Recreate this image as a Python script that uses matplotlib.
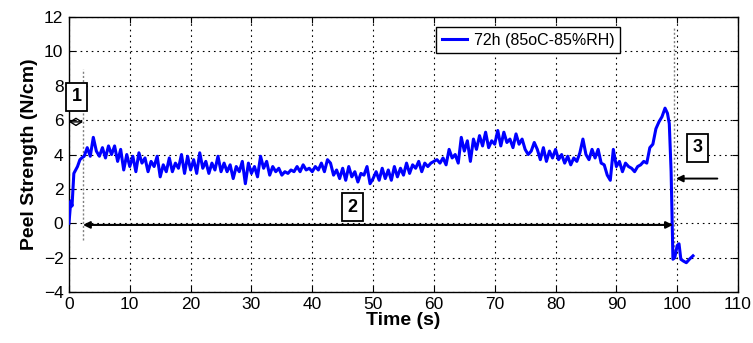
import numpy as np
import matplotlib
matplotlib.use("Agg")
import matplotlib.pyplot as plt

plt.rcParams['font.family'] = ['Liberation Sans', 'DejaVu Sans']

# start-up segment
t_start = [0.0, 0.3, 0.5, 0.8, 1.1, 1.4, 1.8, 2.1]
y_start = [0.0, 1.3, 1.0, 2.9, 3.1, 3.3, 3.7, 3.8]

# steady peel segment, sampled every 0.5 s from 2.5 s to 94.5 s
t_mid = np.arange(2.5, 94.75, 0.5)
y_mid = [
    3.9, 4.4, 3.9, 5.0, 4.2, 3.9, 4.4, 3.8, 4.5, 4.0,
    4.5, 3.6, 4.3, 3.1, 4.0, 3.3, 3.9, 3.0, 4.1, 3.5,
    3.8, 3.0, 3.6, 3.3, 3.9, 2.7, 3.4, 3.0, 3.8, 3.0,
    3.5, 3.2, 4.0, 2.9, 3.9, 3.1, 3.7, 2.9, 4.1, 3.2,
    3.6, 2.9, 3.5, 3.1, 3.9, 3.0, 3.5, 3.0, 3.4, 2.6,
    3.3, 3.0, 3.6, 2.3, 3.5, 2.9, 3.3, 2.7, 3.9, 3.2,
    3.6, 2.8, 3.3, 3.0, 3.2, 2.8, 3.0, 2.9, 3.1, 3.0,
    3.3, 3.0, 3.4, 3.1, 3.2, 3.0, 3.3, 3.1, 3.5, 3.0,
    3.7, 3.5, 2.8, 3.1, 2.6, 3.2, 2.5, 3.3, 2.7, 3.0,
    2.4, 2.9, 2.8, 3.3, 2.3, 2.6, 3.0, 2.5, 3.2, 2.6,
    3.1, 2.5, 3.3, 2.7, 3.2, 2.8, 3.5, 2.9, 3.4, 3.2,
    3.6, 3.0, 3.5, 3.3, 3.5, 3.6, 3.7, 3.5, 3.8, 3.4,
    4.3, 3.8, 4.0, 3.5, 5.0, 4.2, 4.8, 3.6, 4.9, 4.3,
    5.1, 4.5, 5.3, 4.4, 4.8, 4.6, 5.4, 4.5, 5.3, 4.7,
    4.9, 4.4, 5.2, 4.6, 4.9, 4.3, 4.0, 4.2, 4.7, 4.3,
    3.7, 4.4, 3.6, 4.2, 3.8, 4.3, 3.7, 4.0, 3.5, 3.9,
    3.4, 3.8, 3.6, 4.1, 4.9, 4.0, 3.7, 4.3, 3.8, 4.3,
    3.5, 3.4, 2.8, 2.5, 4.3, 3.3, 3.6, 3.0, 3.5, 3.3,
    3.2, 3.0, 3.3, 3.4, 3.6,
]

# final peak, failure drop and tail
t_end = [95.0, 95.5, 96.0, 96.5, 97.0, 97.5, 98.0, 98.4, 98.7, 99.0, 99.3,
         99.6, 100.0, 100.3, 100.6, 101.0, 101.5, 102.0, 102.6]
y_end = [3.5, 4.4, 4.6, 5.5, 5.9, 6.2, 6.7, 6.4, 5.8, 3.0, -2.1,
         -2.0, -1.3, -1.2, -2.1, -2.2, -2.3, -2.1, -1.9]

t = np.concatenate([t_start, t_mid, t_end])
y = np.concatenate([y_start, y_mid, y_end])

xticks = list(range(0, 111, 10))
yticks = list(range(-4, 13, 2))

fig = plt.figure(figsize=(7.53, 3.43), dpi=100)
ax = fig.add_axes([0.0916, 0.149, 0.8885, 0.801])

ax.plot(t, y, color='#0000ff', lw=2.2, label='72h (85oC-85%RH)', zorder=3)

ax.set_xlim(0, 110)
ax.set_ylim(-4, 12)
ax.set_xticks(xticks)
ax.set_yticks(yticks)
ax.tick_params(direction='in', labelsize=12.5, top=True, right=True, length=4, pad=4)
ax.grid(True, color='black', linestyle=(0, (1.5, 3.5)), lw=0.8)
for s in ax.spines.values():
    s.set_linewidth(1.0)

ax.set_xlabel('Time (s)', fontsize=14, fontweight='bold', labelpad=0)
ax.set_ylabel('Peel Strength (N/cm)', fontsize=14, fontweight='bold', labelpad=4)

leg = ax.legend(loc='upper left', bbox_to_anchor=(0.549, 0.964), fancybox=False,
                edgecolor='black', fontsize=11.5, borderaxespad=0, handlelength=1.6,
                handletextpad=0.4, borderpad=0.35, framealpha=1)
leg.get_frame().set_linewidth(1.0)

# vertical guide lines
ax.plot([2.3, 2.3], [-1, 9], color='gray', lw=1.0, linestyle=(0, (1.5, 1.5)), zorder=2)
ax.plot([99.5, 99.5], [-1.6, 11.4], color='gray', lw=1.0, linestyle=(0, (1.5, 1.5)), zorder=2)

# arrows
ax.annotate('', xy=(0, 5.9), xytext=(2.3, 5.9),
            arrowprops=dict(arrowstyle='<->,head_length=0.4,head_width=0.25', color='black', lw=1.0,
                            shrinkA=0, shrinkB=0, mutation_scale=10))
ax.annotate('', xy=(2.3, -0.1), xytext=(99.3, -0.1),
            arrowprops=dict(arrowstyle='<|-|>', color='black', lw=1.5,
                            shrinkA=0, shrinkB=0, mutation_scale=10))
ax.annotate('', xy=(99.8, 2.6), xytext=(106.6, 2.6),
            arrowprops=dict(arrowstyle='-|>', color='black', lw=1.4,
                            shrinkA=0, shrinkB=0, mutation_scale=10))

box = dict(boxstyle='square,pad=0.3', facecolor='white', edgecolor='black', lw=1.3)
ax.text(1.3, 7.37, '1', fontsize=13, fontweight='bold', ha='center', va='center', bbox=box, zorder=4)
ax.text(46.6, 0.92, '2', fontsize=13, fontweight='bold', ha='center', va='center', bbox=box, zorder=4)
ax.text(103.3, 4.4, '3', fontsize=13, fontweight='bold', ha='center', va='center', bbox=box, zorder=4)

fig.savefig('out.png', dpi=100)
